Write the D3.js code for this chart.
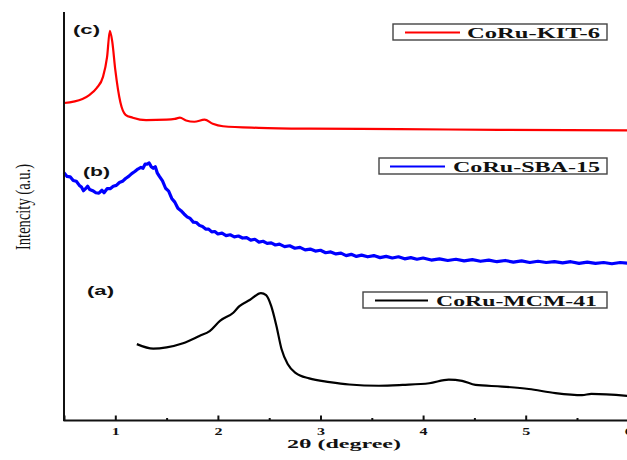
<!DOCTYPE html>
<html>
<head>
<meta charset="utf-8">
<script src="https://cdn.jsdelivr.net/npm/d3@7"></script>
<style>
  html, body { margin: 0; padding: 0; background: #fff; overflow: hidden; }
</style>
</head>
<body>
<div id="chart"></div>
<script>
// Series (2theta in degrees, intensity in arbitrary units)
const kitX = [0.50, 0.68, 0.75, 0.82, 0.88, 0.92, 0.947, 0.97, 1.00, 1.05, 1.10, 1.17, 1.30, 1.50, 1.58, 1.63, 1.69, 1.77, 1.87, 1.95, 2.05, 2.40, 2.89, 3.77, 4.74, 6.00];
const kitY = [777, 787, 797, 814, 841, 890, 954, 928, 858, 778, 748, 741, 735, 736, 738, 741, 734, 731, 736, 726, 720, 716, 714, 713, 711, 710];

const sbaX = [0.50, 0.53, 0.56, 0.59, 0.62, 0.65, 0.67, 0.69, 0.71, 0.73, 0.75, 0.78, 0.81, 0.84, 0.87, 0.89, 0.92, 0.95, 0.98, 1.01,
  1.04, 1.07, 1.10, 1.13, 1.16, 1.19, 1.22, 1.25, 1.27, 1.29, 1.31, 1.33, 1.35, 1.37, 1.39, 1.41, 1.43,
  1.46, 1.49, 1.52, 1.55, 1.58, 1.61, 1.64, 1.67, 1.70, 1.73, 1.76, 1.79, 1.82, 1.85, 1.88, 1.91, 1.94, 1.97,
  2.00, 2.04, 2.08, 2.12, 2.16, 2.20, 2.24, 2.28, 2.32, 2.36, 2.40, 2.44, 2.48, 2.52, 2.56, 2.60, 2.65, 2.70,
  2.75, 2.80, 2.85, 2.90, 2.95, 3.00, 3.05, 3.10, 3.15, 3.20, 3.25, 3.30, 3.35, 3.40, 3.46, 3.52, 3.58, 3.64,
  3.70, 3.76, 3.82, 3.88, 3.94, 4.00, 4.08, 4.16, 4.24, 4.32, 4.40, 4.48, 4.56, 4.64, 4.72, 4.80, 4.88, 4.96,
  5.04, 5.12, 5.20, 5.28, 5.36, 5.44, 5.52, 5.60, 5.68, 5.76, 5.84, 5.92, 6.00];
const sbaY = [606, 597, 596, 587, 585, 575, 571, 562, 567, 573, 565, 562, 557, 556, 563, 557, 567, 567, 573, 575,
  582, 585, 592, 597, 604, 609, 615, 619, 617, 627, 627, 630, 621, 617, 621, 605, 597,
  586, 568, 561, 543, 534, 519, 513, 505, 498, 494, 485, 484, 477, 474, 468, 468, 461, 462,
  456, 458, 452, 454, 449, 451, 446, 447, 441, 443, 436, 438, 433, 434, 429, 431, 425, 427,
  421, 423, 417, 419, 414, 416, 410, 412, 407, 409, 403, 406, 401, 404, 400, 403, 398, 401,
  397, 400, 395, 398, 394, 397, 392, 395, 391, 394, 390, 393, 389, 392, 388, 391, 387, 390,
  386, 389, 386, 388, 385, 388, 384, 387, 384, 386, 383, 386, 384];

const mcmX = [1.21, 1.37, 1.50, 1.66, 1.82, 1.92, 2.02, 2.15, 2.21, 2.31, 2.42, 2.47, 2.52, 2.57, 2.62, 2.68, 2.76, 2.89, 3.09, 3.28,
  3.57, 3.80, 4.06, 4.25, 4.38, 4.51, 4.77, 5.03, 5.29, 5.55, 5.64, 6.00];
const mcmY = [186, 175, 178, 188, 206, 218, 243, 263, 279, 294, 311, 306, 279, 231, 174, 137, 115, 102, 93, 87,
  84, 86, 90, 99, 96, 86, 82, 76, 66, 61, 64, 59];

const xTicks = [1, 2, 3, 4, 5, 6];
const xMinorTicks = [1.5, 2.5, 3.5, 4.5, 5.5];

const seriesNames = ['CoRu-KIT-6', 'CoRu-SBA-15', 'CoRu-MCM-41'];
const seriesColors = ['#ff0000', '#0000ff', '#000000'];
const seriesTags = ['(c)', '(b)', '(a)'];

const W = 627, H = 460;

const x = d3.scaleLinear().domain([0.5, 6]).range([64, 628.3]);
const y = d3.scaleLinear().domain([0, 1000]).range([420, 12]);

const svg = d3.select('#chart').append('svg')
  .attr('width', W)
  .attr('height', H);

// curves
const series = [
  {xs: kitX, ys: kitY, width: 2.2, curve: d3.curveMonotoneX},
  {xs: sbaX, ys: sbaY, width: 3.2, curve: d3.curveLinear},
  {xs: mcmX, ys: mcmY, width: 2.2, curve: d3.curveMonotoneX}
];

series.forEach((s, i) => {
  const pts = s.xs.map((v, j) => [v, s.ys[j]]);
  const line = d3.line().x(d => x(d[0])).y(d => y(d[1])).curve(s.curve);
  svg.append('path')
    .datum(pts)
    .attr('fill', 'none')
    .attr('stroke', seriesColors[i])
    .attr('stroke-width', s.width)
    .attr('stroke-linejoin', 'round')
    .attr('d', line);
});

// axes: left line only, bottom with inward ticks
svg.append('line')
  .attr('x1', x(0.5)).attr('x2', x(0.5))
  .attr('y1', 12).attr('y2', 421)
  .attr('stroke', '#111').attr('stroke-width', 2);

const xAxis = d3.axisBottom(x).tickValues(xTicks).tickSize(-4.5).tickPadding(7).tickFormat(d3.format('d'));
const gx = svg.append('g').attr('transform', 'translate(0,420)').call(xAxis);
gx.select('.domain').attr('stroke', '#111').attr('stroke-width', 2);
gx.selectAll('.tick line').attr('stroke', '#111').attr('stroke-width', 2);
gx.selectAll('.tick text')
  .attr('font-family', 'Liberation Serif, serif')
  .attr('font-weight', 'bold')
  .attr('font-size', 11)
  .attr('fill', '#111')
  .attr('textLength', 8)
  .attr('lengthAdjust', 'spacingAndGlyphs');

const gm = svg.append('g').attr('transform', 'translate(0,420)')
  .call(d3.axisBottom(x).tickValues(xMinorTicks).tickSize(-2).tickFormat(''));
gm.select('.domain').remove();
gm.selectAll('.tick line').attr('stroke', '#111').attr('stroke-width', 2);

// axis titles
svg.append('text')
  .attr('x', 344).attr('y', 448)
  .attr('text-anchor', 'middle')
  .attr('font-family', 'Liberation Serif, serif')
  .attr('font-weight', 'bold')
  .attr('font-size', 13)
  .attr('fill', '#111')
  .attr('textLength', 114)
  .attr('lengthAdjust', 'spacingAndGlyphs')
  .text('2θ (degree)');

svg.append('text')
  .attr('transform', 'translate(30,207) rotate(-90)')
  .attr('text-anchor', 'middle')
  .attr('font-family', 'Liberation Serif, serif')
  .attr('font-size', 22)
  .attr('fill', '#111')
  .attr('textLength', 86)
  .attr('lengthAdjust', 'spacingAndGlyphs')
  .text('Intencity (a.u.)');

// curve tags
const tagPos = [[73, 34], [83, 176], [87, 295]];
seriesTags.forEach((t, i) => {
  svg.append('text')
    .attr('x', tagPos[i][0]).attr('y', tagPos[i][1])
    .attr('font-family', 'Liberation Sans, Arial, sans-serif')
    .attr('font-weight', 'bold')
    .attr('font-size', 12)
    .attr('fill', '#111')
    .attr('textLength', 27)
    .attr('lengthAdjust', 'spacingAndGlyphs')
    .text(t);
});

// legend boxes, one per curve
const legendBoxes = [
  {x0: 393, x1: 607, y0: 24, l0: 405, l1: 460, t0: 467, t1: 600},
  {x0: 379, x1: 607, y0: 158, l0: 390, l1: 445, t0: 453, t1: 600},
  {x0: 363, x1: 607, y0: 292, l0: 375, l1: 428, t0: 436, t1: 597}
];
legendBoxes.forEach((b, i) => {
  const g = svg.append('g');
  g.append('rect')
    .attr('x', b.x0).attr('y', b.y0)
    .attr('width', b.x1 - b.x0).attr('height', 16)
    .attr('fill', '#fff').attr('stroke', '#444').attr('stroke-width', 1.4);
  g.append('line')
    .attr('x1', b.l0).attr('x2', b.l1)
    .attr('y1', b.y0 + 8.5).attr('y2', b.y0 + 8.5)
    .attr('stroke', seriesColors[i]).attr('stroke-width', 2);
  g.append('text')
    .attr('x', b.t0).attr('y', b.y0 + 13.5)
    .attr('font-family', 'Liberation Serif, serif')
    .attr('font-weight', 'bold')
    .attr('font-size', 15)
    .attr('fill', '#111')
    .attr('textLength', b.t1 - b.t0)
    .attr('lengthAdjust', 'spacingAndGlyphs')
    .text(seriesNames[i]);
});
</script>
</body>
</html>
